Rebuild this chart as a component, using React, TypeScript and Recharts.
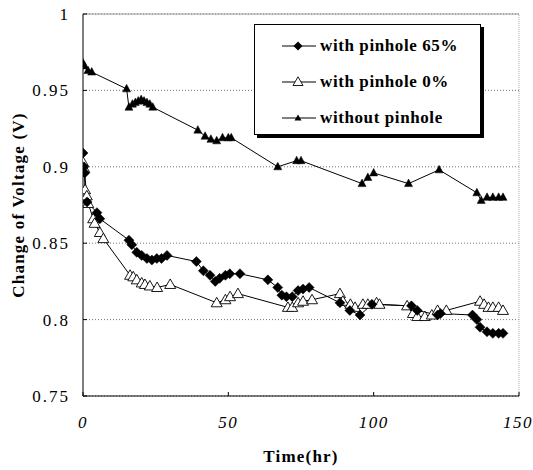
import React from 'react';
import { LineChart, Line, XAxis, YAxis, CartesianGrid, Legend, ReferenceLine } from 'recharts';

const seriesNames = ['with pinhole 65%', 'with pinhole 0%', 'without pinhole'];

const t65 = [0, 0.3, 0.6, 1.4, 4.8, 5.8, 15.8, 16.8, 18.5, 20.2, 22, 23.7, 25.4, 27, 28.9, 39, 41.4, 43.7, 45.5, 47, 49, 50.5, 54, 63.6, 67, 68.4, 70, 72, 74, 75.7, 77.8, 88.4, 91.8, 95.3, 99.4, 113, 115, 122, 123, 134, 135.5, 136.6, 139, 141, 143, 144.5];
const v65 = [0.909, 0.9, 0.896, 0.877, 0.87, 0.866, 0.852, 0.849, 0.844, 0.842, 0.84, 0.839, 0.84, 0.84, 0.842, 0.838, 0.832, 0.829, 0.825, 0.827, 0.829, 0.83, 0.83, 0.826, 0.821, 0.816, 0.815, 0.815, 0.819, 0.82, 0.821, 0.811, 0.806, 0.803, 0.81, 0.809, 0.806, 0.803, 0.804, 0.803, 0.8, 0.795, 0.792, 0.791, 0.791, 0.791];

const t0 = [0, 0.4, 0.7, 1.3, 1.8, 3.5, 4, 5.8, 7, 16.2, 17.3, 18.5, 20.2, 21.3, 23, 25.5, 30, 46, 49, 50.6, 53.3, 70.5, 72, 74, 75.7, 78.8, 88.4, 89.4, 92, 93.6, 96.3, 98, 101, 102, 111.5, 113.5, 115, 117.6, 120, 122, 125, 136.6, 138, 139.5, 141, 143, 144.5];
const v0 = [0.903, 0.899, 0.885, 0.881, 0.876, 0.866, 0.863, 0.857, 0.853, 0.829, 0.828, 0.826, 0.824, 0.823, 0.822, 0.821, 0.823, 0.811, 0.813, 0.815, 0.817, 0.808, 0.808, 0.811, 0.812, 0.813, 0.817, 0.812, 0.81, 0.808, 0.81, 0.81, 0.811, 0.81, 0.809, 0.804, 0.802, 0.802, 0.803, 0.806, 0.806, 0.812, 0.81, 0.808, 0.808, 0.808, 0.806];

const tNo = [0, 0.5, 1.7, 3, 15, 15.8, 17, 18, 19, 20, 21, 22, 23, 24, 39.5, 42, 44, 46, 48, 50, 51, 67, 73.5, 75, 96, 98, 100, 112, 122.5, 135.5, 137, 139, 141, 143, 144.5];
const vNo = [0.968, 0.966, 0.963, 0.962, 0.951, 0.939, 0.941, 0.942, 0.943, 0.944, 0.943, 0.942, 0.941, 0.939, 0.924, 0.92, 0.918, 0.917, 0.919, 0.919, 0.919, 0.9, 0.904, 0.904, 0.889, 0.893, 0.896, 0.889, 0.898, 0.883, 0.878, 0.88, 0.88, 0.88, 0.88];

const xTicks = [0, 50, 100, 150];
const yTicks = [0.75, 0.8, 0.85, 0.9, 0.95, 1];

const toRows = (ts: number[], vs: number[]) => ts.map((t, i) => ({ t, v: vs[i] }));
const d65 = toRows(t65, v65);
const d0 = toRows(t0, v0);
const dNo = toRows(tNo, vNo);

const FONT = '"Liberation Serif", "Times New Roman", serif';

const Diamond = (props: any) => {
  const { cx, cy } = props;
  if (cx == null || cy == null) return null;
  const r = 5;
  return <polygon points={`${cx},${cy - r} ${cx + r},${cy} ${cx},${cy + r} ${cx - r},${cy}`} fill="#000" stroke="#000" strokeWidth={0.5} />;
};
const OpenTri = (props: any) => {
  const { cx, cy } = props;
  if (cx == null || cy == null) return null;
  return <polygon points={`${cx},${cy - 5.5} ${cx + 5.5},${cy + 4} ${cx - 5.5},${cy + 4}`} fill="#fff" stroke="#000" strokeWidth={0.9} />;
};
const SmallTri = (props: any) => {
  const { cx, cy } = props;
  if (cx == null || cy == null) return null;
  return <polygon points={`${cx},${cy - 4.5} ${cx + 4},${cy + 3} ${cx - 4},${cy + 3}`} fill="#000" stroke="#000" strokeWidth={0.5} />;
};

const legendIcon = (i: number) => {
  const mark = i === 0
    ? <polygon points="16,1.5 20.5,6 16,10.5 11.5,6" fill="#000" />
    : i === 1
      ? <polygon points="16,0.8 21,9.5 11,9.5" fill="#fff" stroke="#000" strokeWidth={0.9} />
      : <polygon points="16,2.5 19.5,8.5 12.5,8.5" fill="#000" />;
  return (
    <svg width={34} height={12} style={{ display: 'block' }}>
      <line x1={0} y1={6} x2={34} y2={6} stroke="#000" strokeWidth={1} />
      {mark}
    </svg>
  );
};

const renderLegend = () => (
  <div style={{
    width: 227, height: 111, boxSizing: 'border-box', border: '1.5px solid #000',
    background: '#fff', boxShadow: '3px 3px 0 #000', paddingTop: 3,
  }}>
    {seriesNames.map((n) => (
      <div key={n} style={{ display: 'flex', alignItems: 'center', height: 36, paddingLeft: 27 }}>
        {legendIcon(seriesNames.indexOf(n))}
        <span style={{ marginLeft: 4, fontFamily: FONT, fontWeight: 'bold', fontSize: 17, letterSpacing: 0.6, color: '#000', lineHeight: '18px' }}>{n}</span>
      </div>
    ))}
  </div>
);

export default function App() {
  return (
    <div style={{ position: 'absolute', left: 0, top: 0, width: 533, height: 470, background: '#fff' }}>
      <LineChart width={533} height={470} margin={{ top: 14, right: 14, bottom: 0, left: 0 }}>
        <CartesianGrid vertical={false} stroke="#777" strokeDasharray="1 2" />
        <XAxis
          type="number" dataKey="t" domain={[0, 150]} ticks={xTicks} height={74}
          allowDataOverflow
          axisLine={{ stroke: '#000' }} tickLine={{ stroke: '#000' }} tickSize={-4} tickMargin={24}
          tick={{ fontFamily: FONT, fontSize: 17, fontStyle: 'italic', fill: '#000', letterSpacing: 1.5 }}
          label={{ value: 'Time(hr)', position: 'insideBottom', offset: 8, style: { fontFamily: FONT, fontSize: 17, fontWeight: 'bold', fill: '#000', letterSpacing: 1.2 } }}
        />
        <YAxis
          type="number" dataKey="v" domain={[0.75, 1]} ticks={yTicks} width={83}
          allowDataOverflow
          axisLine={{ stroke: '#000' }} tickLine={{ stroke: '#000' }} tickSize={-4} tickMargin={17}
          tickFormatter={(v: number) => String(+v.toFixed(2))}
          tick={{ fontFamily: FONT, fontSize: 17, fill: '#000', letterSpacing: 2 }}
          label={{ value: 'Change of Voltage (V)', angle: -90, position: 'insideLeft', offset: 18, style: { textAnchor: 'middle', fontFamily: FONT, fontSize: 17, fontWeight: 'bold', fill: '#000', letterSpacing: 1.2 } }}
        />
        <ReferenceLine y={1} stroke="#999" />
        <ReferenceLine x={150} stroke="#aaa" strokeDasharray="1 1" />
        <Legend content={renderLegend} layout="horizontal" verticalAlign="middle" align="center" wrapperStyle={{ position: 'absolute', left: 254, top: 24, width: 227 }} />
        <Line data={dNo} dataKey="v" name={seriesNames[2]} stroke="#000" strokeWidth={1} dot={(p: any) => <SmallTri key={`n${p.index}`} {...p} />} isAnimationActive={false} legendType="none" />
        <Line data={d0} dataKey="v" name={seriesNames[1]} stroke="#000" strokeWidth={1} dot={(p: any) => <OpenTri key={`z${p.index}`} {...p} />} isAnimationActive={false} legendType="none" />
        <Line data={d65} dataKey="v" name={seriesNames[0]} stroke="#000" strokeWidth={1} dot={(p: any) => <Diamond key={`d${p.index}`} {...p} />} isAnimationActive={false} legendType="none" />
      </LineChart>
    </div>
  );
}
